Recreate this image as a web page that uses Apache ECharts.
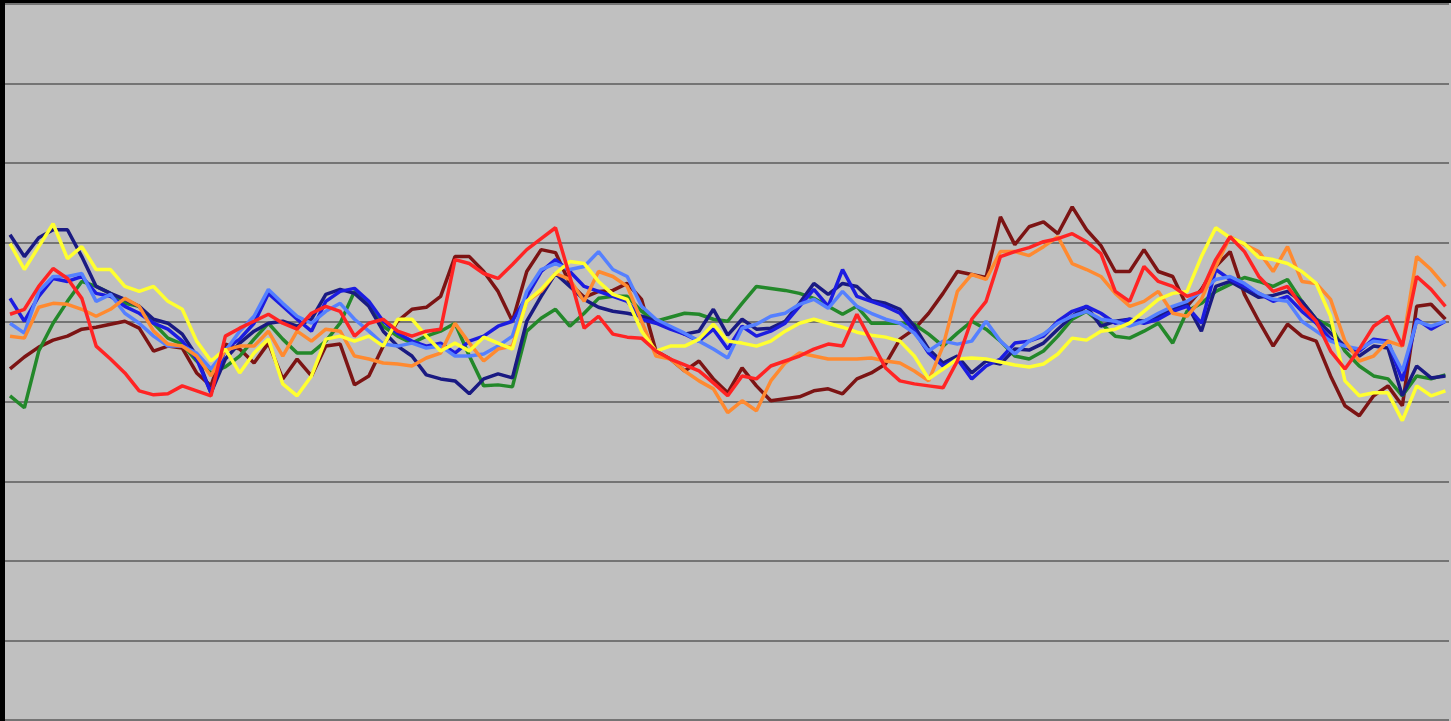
<!DOCTYPE html>
<html>
<head>
<meta charset="utf-8">
<script src="https://cdn.jsdelivr.net/npm/echarts@6/dist/echarts.min.js"></script>
<style>
html,body{margin:0;padding:0;background:#000;width:1451px;height:721px;overflow:hidden;}
#chart{position:absolute;left:5px;top:3px;width:1446px;height:718px;background:#c0c0c0;}
</style>
</head>
<body>
<div id="chart"></div>
<script>
// y-axis ticks (no labels shown in the reference)
const yTicks = [0, 80, 160, 240, 320, 400, 480, 560, 640, 720];

const navy = [488,466,485,493,493,466,436,429,423,416,
403,399,388,366,329,363,379,391,399,401,
396,403,428,433,429,416,391,376,366,347,
343,341,328,343,348,344,401,426,449,436,
423,415,411,409,406,401,395,388,391,413,
387,403,393,394,401,419,439,428,439,436,
422,419,413,396,373,359,366,349,361,358,
373,372,379,393,406,416,396,401,403,401,
406,413,418,391,436,441,433,425,427,431,
421,403,389,376,366,376,374,326,356,344,346];

const blue = [424,401,426,444,441,446,429,426,416,409,
399,393,381,363,329,373,383,399,429,416,
403,391,421,431,434,421,401,389,381,376,
379,369,381,386,396,401,426,451,463,451,
436,431,426,421,403,399,393,388,381,393,
373,396,386,391,399,416,433,416,453,426,
421,416,409,391,369,356,363,343,356,363,
379,381,386,401,411,416,409,399,403,399,
403,411,416,399,453,443,436,429,421,426,
411,399,383,376,371,383,381,341,403,393,401];

const lightBlue = [399,389,431,446,446,449,421,428,409,399,
386,376,376,369,353,371,391,406,433,419,
406,399,411,419,403,391,378,376,379,374,
376,366,366,368,376,386,431,453,459,453,
456,471,453,446,416,403,396,389,381,373,
364,394,398,406,409,418,423,414,431,416,
409,403,399,389,371,381,378,381,401,381,
368,381,388,399,406,411,403,401,396,401,
409,416,421,431,443,446,439,429,423,421,
401,391,381,376,373,381,379,351,401,396,401];

const green = [326,314,371,399,421,441,436,429,419,416,
399,384,378,361,349,355,366,383,399,383,
369,369,381,399,431,419,396,386,379,386,
391,399,366,336,337,335,391,404,413,396,
409,424,426,426,411,401,405,409,408,403,
401,419,436,434,432,429,424,416,408,416,
399,399,399,398,388,376,389,401,393,381,
366,363,371,386,403,411,399,386,384,391,
399,379,411,419,431,438,445,441,436,443,
421,403,396,371,356,346,343,326,346,343,347];

const orange = [386,384,415,419,418,413,406,413,424,416,
391,378,376,366,346,372,376,376,391,366,
391,381,393,391,366,363,359,358,356,364,
369,399,379,361,373,376,421,431,449,443,
421,451,446,436,401,366,363,351,341,333,
309,321,311,341,359,369,366,363,363,363,
364,361,359,351,341,376,431,448,443,471,
471,467,476,486,459,453,446,429,416,421,
431,409,406,423,456,486,478,471,451,476,
441,439,423,381,361,366,381,376,466,453,436];

const yellow = [479,453,476,499,464,476,453,453,436,431,
436,421,413,381,361,373,349,369,383,338,
326,346,383,386,381,386,376,403,403,386,
371,379,371,385,379,373,421,433,449,461,
459,441,428,423,391,371,376,376,383,398,
381,379,376,381,391,399,403,399,395,390,
387,385,381,366,343,353,363,364,363,360,
357,355,358,368,384,382,391,393,399,411,
423,429,431,466,495,485,479,465,463,459,
451,439,406,341,326,329,329,301,336,326,331];

const red = [408,413,436,454,444,424,376,363,349,331,
327,328,336,331,326,386,394,401,408,399,
393,409,416,411,386,399,403,391,386,391,
393,463,459,449,444,458,473,484,495,446,
394,406,388,385,384,371,363,357,351,339,
326,346,343,356,361,366,373,378,376,408,
381,354,341,338,336,334,361,403,421,466,
471,475,481,484,489,481,469,431,421,456,
441,436,426,431,463,486,471,446,431,436,
416,401,371,353,373,396,406,376,446,433,416];

const maroon = [353,365,375,382,386,393,395,398,401,394,
371,376,374,349,336,378,373,359,379,343,
363,346,376,378,337,346,376,401,413,415,
426,466,466,451,431,401,451,473,470,439,
425,431,432,439,423,371,363,351,361,343,
329,354,336,321,323,325,331,333,328,343,
349,358,383,393,409,429,451,448,445,506,
478,496,501,489,516,493,477,451,451,473,
451,446,416,433,456,471,428,401,376,398,
386,381,346,316,306,326,336,316,416,418,403];

const seriesList = [
  {name:'Series 8', data:maroon, color:'#7c1414'},
  {name:'Series 4', data:green, color:'#23882a'},
  {name:'Series 1', data:navy, color:'#1a1a82'},
  {name:'Series 2', data:blue, color:'#1c1ce0'},
  {name:'Series 3', data:lightBlue, color:'#5580ff'},
  {name:'Series 6', data:orange, color:'#ff8a30'},
  {name:'Series 5', data:yellow, color:'#ffff30'},
  {name:'Series 7', data:red, color:'#ff2424'}
];

const chart = echarts.init(document.getElementById('chart'), null, {renderer:'canvas'});
chart.setOption({
  animation:false,
  backgroundColor:'#c0c0c0',
  grid:{left:0, right:2, top:1, bottom:1, containLabel:false},
  xAxis:{type:'value', min:-0.35, max:100.25, show:false, splitLine:{show:false}},
  yAxis:{type:'value', min:yTicks[0], max:yTicks[yTicks.length-1], interval:80,
    axisLabel:{show:false}, axisTick:{show:false}, axisLine:{show:false},
    splitLine:{show:true, lineStyle:{color:'#747474', width:2}}},
  series: seriesList.map(s => ({
    name:s.name, type:'line', showSymbol:false, symbol:'none', smooth:false,
    data:s.data.map((v,i)=>[i,v]),
    lineStyle:{color:s.color, width:3.5},
    itemStyle:{color:s.color}
  }))
});
</script>
</body>
</html>
